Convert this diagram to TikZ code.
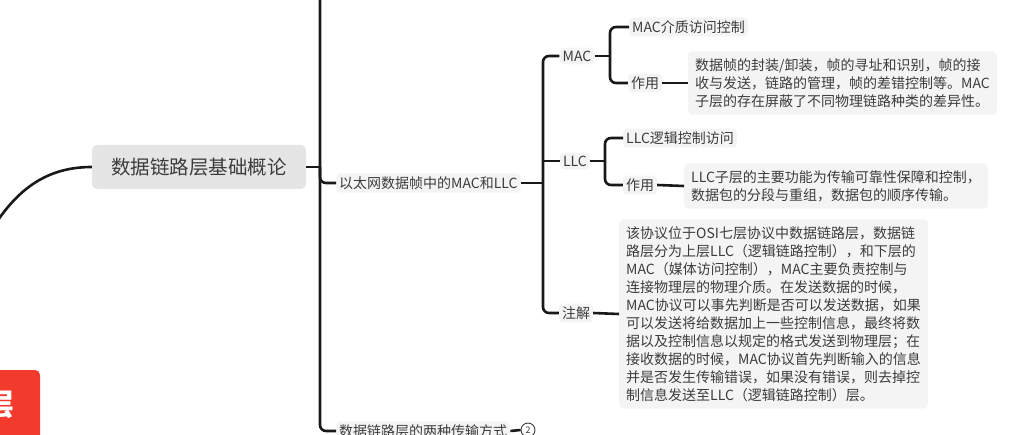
\documentclass[tikz,border=0pt]{standalone}
\usepackage{fontspec}
\setmainfont{Noto Sans CJK SC}
\definecolor{ink}{HTML}{3C3C3C}
\definecolor{paper}{HTML}{F4F4F4}
\definecolor{alert}{HTML}{F23B2C}

\begin{document}
\begin{tikzpicture}[x=1pt, y=-1pt,
link/.style  = {line width=2.6pt, draw=black!90, rounded corners=6pt},
topic/.style = {fill=black!10, rounded corners=5pt, text=ink,
                font=\fontsize{19.5}{22}\selectfont,
                minimum width=214pt, minimum height=44pt},
leaf/.style  = {fill=paper, rounded corners=4pt, text=ink,
                font=\fontsize{14}{18}\selectfont, inner sep=3pt},
note/.style  = {leaf, align=left, inner sep=7pt, anchor=west}
                        ]
\clip (0,0) rectangle (1027,435);
% topics
\node (main) [topic] at (199,167) {数据链路层基础概论};
\node (eth) [leaf, anchor=west] at (336,183) {以太网数据帧中的MAC和LLC};
\node (modes) [leaf, anchor=west] at (336,431) {数据链路层的两种传输方式};
\node (count) [circle, draw=ink, line width=0.9pt, inner sep=0pt,
               minimum size=14pt, font=\fontsize{9}{9}\selectfont,
               text=ink] at (528,430) {2};
\node (layer) [fill=alert, rounded corners=5pt, text=white,
               font=\bfseries\fontsize{30}{30}\selectfont,
               inner xsep=26pt, minimum height=70pt] at (-1,405) {层};
% MAC
\node (mac) [leaf] at (577,56) {MAC};
\node (macname) [leaf, anchor=west] at (629,27) {MAC介质访问控制};
\node (macuse) [leaf] at (645,83) {作用};
\node (macnote) [note] at (688,83) {数据帧的封装/卸装，帧的寻址和识别，帧的接\\
收与发送，链路的管理，帧的差错控制等。MAC\\
子层的存在屏蔽了不同物理链路种类的差异性。};
% LLC
\node (llc) [leaf] at (575,161) {LLC};
\node (llcname) [leaf, anchor=west] at (623,138) {LLC逻辑控制访问};
\node (llcuse) [leaf] at (640,185) {作用};
\node (llcnote) [note] at (684,186) {LLC子层的主要功能为传输可靠性保障和控制，\\
数据包的分段与重组，数据包的顺序传输。};
% remark
\node (remark) [leaf] at (576,313) {注解};
\node (remarknote) [note] at (619,314) {该协议位于OSI七层协议中数据链路层，数据链\\
路层分为上层LLC（逻辑链路控制），和下层的\\
MAC（媒体访问控制），MAC主要负责控制与\\
连接物理层的物理介质。在发送数据的时候，\\
MAC协议可以事先判断是否可以发送数据，如果\\
可以发送将给数据加上一些控制信息，最终将数\\
据以及控制信息以规定的格式发送到物理层；在\\
接收数据的时候，MAC协议首先判断输入的信息\\
并是否发生传输错误，如果没有错误，则去掉控\\
制信息发送至LLC（逻辑链路控制）层。};
% connectors
\coordinate (root) at (-6,226);
\coordinate (trunk) at (320,0);
\coordinate (ethfork) at (543,183);
\coordinate (macfork) at (610,56);
\coordinate (llcfork) at (605,161);
\draw[link] (root) to[out=57,in=180] (main.west);
\draw[link] (main.east) -- (trunk |- main.east);
\draw[link] (trunk) |- (modes.west);
\draw[link] (trunk |- main.east) |- (eth.west);
\draw[link] (modes.east) -- (count.west);
\draw[link] (eth.east) -- (ethfork);
\draw[link] (mac.west) -| (ethfork) |- (remark.west);
\draw[link] (ethfork |- llc.west) -- (llc.west);
\draw[link] (mac.east) -- (macfork);
\draw[link] (macname.west) -| (macfork) |- (macuse.west);
\draw[link] (macuse.east) -- (macnote.west);
\draw[link] (llc.east) -- (llcfork);
\draw[link] (llcname.west) -| (llcfork) |- (llcuse.west);
\draw[link] (llcuse.east) -- (llcnote.west);
\draw[link] (remark.east) -- (remarknote.west);
\end{tikzpicture}
\end{document}
